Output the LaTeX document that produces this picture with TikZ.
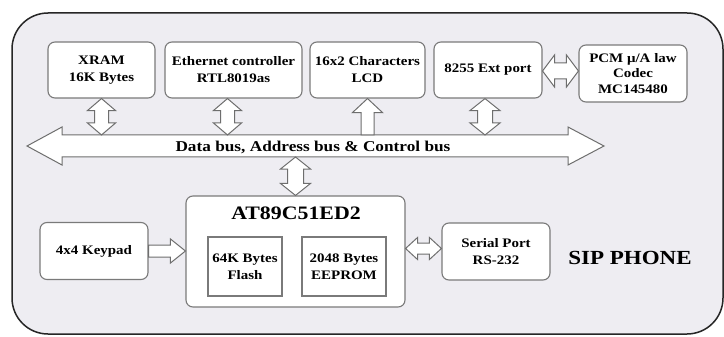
\documentclass[tikz,border=0pt]{standalone}
\usepackage{fontspec}
\usepackage{graphicx}
\setmainfont{Liberation Serif}
\usetikzlibrary{calc}
\definecolor{framefill}{HTML}{EEEDF2}
\definecolor{boxline}{HTML}{7A7A7A}
\definecolor{arrline}{HTML}{6E6E6E}
\newcommand\sx[1]{\scalebox{1.15}[1]{#1}}
\tikzset{
  blk/.style={draw=boxline, line width=1.1pt, fill=white, rounded corners=7pt, align=center,
    font=\fontsize{13}{17}\selectfont\bfseries, inner sep=0pt},
  inbox/.style={draw=boxline, line width=1.1pt, fill=white, align=center,
    font=\fontsize{13}{17}\selectfont\bfseries, inner sep=0pt},
  arr/.style={draw=arrline, line width=1pt, fill=white, line join=miter},
}
% vertical double arrow: #1 top point, #2 bottom point; #3 shaft half, #4 head half, #5 head length
\newcommand\vdarrow[5]{%
  \draw[arr] let \p1=#1, \p2=#2 in
   (\x1,\y1) -- (\x1+#4pt,\y1-#5pt) -- (\x1+#3pt,\y1-#5pt) -- (\x1+#3pt,\y2+#5pt) -- (\x1+#4pt,\y2+#5pt)
   -- (\x1,\y2) -- (\x1-#4pt,\y2+#5pt) -- (\x1-#3pt,\y2+#5pt) -- (\x1-#3pt,\y1-#5pt) -- (\x1-#4pt,\y1-#5pt) -- cycle;}
% vertical single up arrow: #1 tip (top), #2 base (bottom)
\newcommand\vuarrow[5]{%
  \draw[arr] let \p1=#1, \p2=#2 in
   (\x1,\y1) -- (\x1+#4pt,\y1-#5pt) -- (\x1+#3pt,\y1-#5pt) -- (\x1+#3pt,\y2) -- (\x1-#3pt,\y2)
   -- (\x1-#3pt,\y1-#5pt) -- (\x1-#4pt,\y1-#5pt) -- cycle;}
% horizontal double arrow: #1 left point, #2 right point (y taken from #1)
\newcommand\hdarrow[5]{%
  \draw[arr] let \p1=#1, \p2=#2 in
   (\x1,\y1) -- (\x1+#5pt,\y1+#4pt) -- (\x1+#5pt,\y1+#3pt) -- (\x2-#5pt,\y1+#3pt) -- (\x2-#5pt,\y1+#4pt)
   -- (\x2,\y1) -- (\x2-#5pt,\y1-#4pt) -- (\x2-#5pt,\y1-#3pt) -- (\x1+#5pt,\y1-#3pt) -- (\x1+#5pt,\y1-#4pt) -- cycle;}
% horizontal single right arrow
\newcommand\hrarrow[5]{%
  \draw[arr] let \p1=#1, \p2=#2 in
   (\x1,\y1+#3pt) -- (\x2-#5pt,\y1+#3pt) -- (\x2-#5pt,\y1+#4pt) -- (\x2,\y1) -- (\x2-#5pt,\y1-#4pt)
   -- (\x2-#5pt,\y1-#3pt) -- (\x1,\y1-#3pt) -- cycle;}
\begin{document}
\begin{tikzpicture}[x=1pt,y=-1pt]
\useasboundingbox (0,0) rectangle (724,337);
\fill[white] (0,0) rectangle (724,337);
% outer frame
\draw[draw=black!85, line width=1.5pt, fill=framefill, rounded corners=36pt] (12,13) rectangle (723,334);

% top row
\node[blk, minimum width=107pt, minimum height=56pt] (xram) at (101.5,70) {\sx{XRAM}\\\sx{16K Bytes}};
\node[blk, minimum width=137pt, minimum height=56pt] (eth) at (233.5,70) {\sx{Ethernet controller}\\\sx{RTL8019as}};
\node[blk, minimum width=115pt, minimum height=56pt] (lcd) at (367.5,70) {\sx{16x2 Characters}\\\sx{LCD}};
\node[blk, minimum width=108pt, minimum height=56pt] (ext) at (488,70) {\sx{8255 Ext port}};
\node[blk, minimum width=108pt, minimum height=57pt, font=\fontsize{13}{15.5}\selectfont\bfseries] (pcm) at (633,73.5) {\sx{PCM μ/A law}\\\sx{Codec}\\\sx{MC145480}};

% bus
\coordinate (busT) at (0,135);
\coordinate (busB) at (0,157);
\draw[arr] (27,146) -- (62,127) -- (62,135) -- (568,135) -- (568,127) -- (604,146)
  -- (568,165) -- (568,157) -- (62,157) -- (62,165) -- cycle;
\node[font=\fontsize{15}{17}\selectfont\bfseries, inner sep=0pt] (bus) at (313,147) {\sx{Data bus, Address bus \& Control bus}};

% bottom
\node[blk, minimum width=219pt, minimum height=111pt] (at89) at (295.5,251.5) {};
\node[font=\fontsize{19}{21}\selectfont\bfseries, inner sep=0pt] (at89t) at (296,213) {\sx{AT89C51ED2}};
\node[inbox, minimum width=74pt, minimum height=59pt] (flash) at (245,266.5) {\sx{64K Bytes}\\\sx{Flash}};
\node[inbox, minimum width=84pt, minimum height=59pt] (eeprom) at (344,266.5) {\sx{2048 Bytes}\\\sx{EEPROM}};
\node[blk, minimum width=108pt, minimum height=57pt] (keypad) at (94,251) {\sx{4x4 Keypad}};
\node[blk, minimum width=108pt, minimum height=57pt] (serial) at (496,251.5) {\sx{Serial Port}\\\sx{RS-232}};
\node[font=\fontsize{20}{22}\selectfont\bfseries, inner sep=0pt] (sip) at (630,258) {\sx{SIP PHONE}};

% connectors
\vdarrow{(xram.south)}{(xram.south |- busT)}{7}{14}{12}
\vdarrow{([xshift=-6pt]eth.south)}{([xshift=-6pt]eth.south |- busT)}{7}{14}{12}
\vuarrow{(lcd.south)}{(lcd.south |- busT)}{6.5}{15}{14}
\vdarrow{([xshift=-3pt]ext.south)}{([xshift=-3pt]ext.south |- busT)}{7.5}{15}{12}
\vdarrow{(at89.north |- busB)}{(at89.north)}{8}{15}{12}
\hdarrow{([yshift=-1pt]ext.east)}{(pcm.west)}{8}{16}{12}
\hdarrow{([yshift=3pt]at89.east)}{(serial.west)}{5.5}{11}{12}
\hrarrow{(keypad.east)}{(at89.west)}{6}{12}{15}
\end{tikzpicture}
\end{document}
